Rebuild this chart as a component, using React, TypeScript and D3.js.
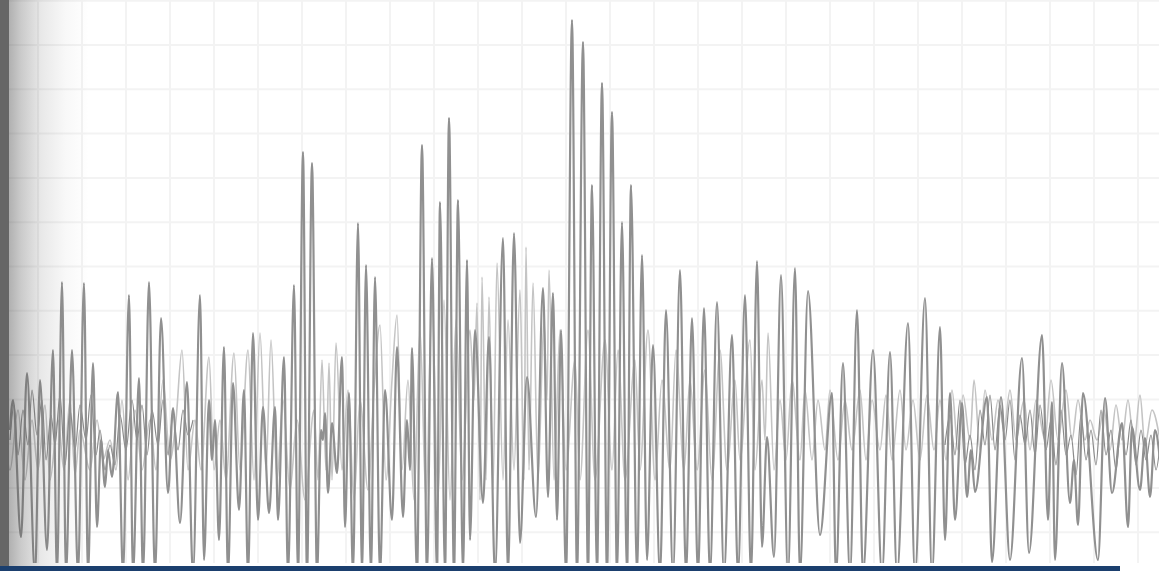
import React from "react";
import * as d3 from "d3";

// Main (dark) trace: time samples and amplitudes (baseline 0, up positive)
const mainT = [10,13,21,27,35,40,47,53,57,62,66,72,78,84,88,93,97,101,105,108,112,118,123,129,133,139,143,149,155,161,168,173,180,187,193,200,204,209,212,215,219,224,228,233,239,244,248,253,258,263,269,275,278,284,288,294,298,303,307,312,317,321,323,325,328,332,337,342,345,349,353,358,362,366,371,375,380,385,392,397,403,407,410,412,417,422,427,432,437,440,445,449,454,458,463,467,470,475,483,489,495,503,508,514,520,527,536,543,548,553,557,561,566,572,577,583,588,592,597,602,607,612,617,622,627,631,637,642,647,653,660,666,673,680,686,692,698,704,710,717,724,732,738,745,751,757,762,767,774,781,788,795,800,808,820,832,836,843,850,857,863,873,882,890,897,908,915,925,932,940,945,950,955,962,967,971,975,987,992,1001,1010,1022,1029,1042,1048,1052,1055,1062,1070,1074,1078,1083,1098,1105,1112,1122,1128,1132,1140,1145,1150,1155,1160];
const mainA = [-5,25,-112,52,-150,45,-125,75,-150,143,-150,75,-150,142,-150,62,-102,-15,-62,-25,-52,33,-150,130,-150,47,-150,143,-150,107,-68,17,-98,43,-150,130,-135,25,-35,5,-115,78,-150,42,-85,35,-150,92,-95,18,-88,18,-95,68,-150,140,-150,273,-150,262,-150,-5,-15,12,-68,2,-48,68,-102,32,-150,202,-150,160,-150,148,-150,35,-95,78,-92,5,-45,77,-150,280,-150,167,-150,223,-150,307,-150,225,-150,165,-115,95,-78,88,-150,187,-150,192,-118,48,-92,137,-72,132,-95,95,-150,405,-150,383,-150,240,-150,342,-150,313,-150,203,-150,240,-150,170,-135,80,-150,115,-150,155,-150,107,-150,117,-150,123,-150,90,-150,130,-150,164,-122,-12,-132,150,-150,157,-150,134,-110,32,-150,62,-150,115,-150,75,-150,73,-150,102,-150,127,-150,98,-115,32,-95,22,-72,-25,-67,28,-137,28,-135,67,-128,90,-95,23,-135,62,-78,-35,-100,32,-135,27,-68,2,-102,-2,-65,-13,-72,-5,-35];

// Secondary (light) trace
const lightT = [5,10,18,25,32,38,45,50,58,64,70,75,80,90,97,103,110,116,122,128,135,142,150,156,163,170,176,182,188,195,201,209,214,220,226,234,240,248,254,260,266,271,277,283,290,297,305,314,318,322,326,329,332,336,342,348,354,360,368,374,380,386,392,397,402,408,414,420,426,432,438,444,450,456,462,470,474,477,480,482,486,489,493,497,503,508,514,520,524,526,529,533,538,544,547,549,554,560,566,575,580,588,595,605,612,618,625,635,640,648,655,662,670,676,684,690,697,705,712,720,727,735,740,750,755,762,765,768,774,780,786,792,800,805,812,818,825,830,838,845,852,860,866,872,880,886,892,900,906,913,920,927,934,940,946,952,958,963,970,974,980,985,992,998,1004,1010,1016,1024,1030,1036,1045,1051,1058,1066,1072,1078,1085,1090,1097,1104,1110,1116,1122,1128,1134,1140,1145,1152,1160];
const lightA = [-5,-45,15,-55,5,-45,20,-55,5,-45,25,-50,-5,-45,5,-35,-15,-45,25,-55,15,-45,5,-45,45,-35,5,75,-45,5,-45,68,-45,5,-55,72,-45,75,-55,92,-45,85,-55,25,-65,5,-75,15,-55,65,-45,62,-55,82,-45,35,-75,25,-65,35,100,-55,45,110,-45,45,-75,95,-75,125,-75,125,-75,105,-55,95,25,122,-75,148,-55,128,-65,162,-55,105,-45,135,-55,178,-45,142,-55,105,25,155,-55,95,-45,65,-55,95,-55,85,-45,75,-55,65,-45,95,-55,45,-45,75,-45,45,-45,55,-55,75,-45,45,-35,85,-45,45,-15,92,-45,25,-35,45,-35,35,-35,25,-25,35,-35,25,-25,35,-35,25,-25,30,-35,35,-25,25,-35,30,-25,25,-35,35,-25,30,-15,45,-25,35,-15,25,-5,35,-15,25,-25,25,-15,45,-15,35,-15,25,-15,5,-15,15,-25,20,-15,25,-20,30,-20,15,-15];

// Low-amplitude dark noise near the baseline (left and right stretches)
const darkLeftT = [10,14,18,23,28,32,37,42,46,51,55,60,65,70,75,80,86,91,96,100,105,110,115,120,126,132,137,142,147,152,158,163,168,173,178,183,188,193];
const darkLeftA = [-15,20,-30,15,-20,35,-10,25,-35,10,-20,30,-40,15,-25,20,-15,30,-30,-5,-45,-20,-40,10,-25,25,-15,20,-30,15,-20,25,-30,10,-25,15,-10,5];
const darkRightT = [945,950,955,960,965,970,975,980,985,990,995,1000,1005,1010,1015,1020,1025,1030,1035,1040,1046,1051,1056,1061,1066,1071,1076,1081,1086,1091,1096,1101,1106,1111,1116,1121,1126,1131,1136,1141,1146,1151,1156,1160];
const darkRightA = [-20,10,-30,25,-40,-10,-45,15,-20,30,-25,20,-15,25,-35,10,-20,15,-30,20,-25,5,-40,15,-30,-10,-50,10,-35,-5,-40,15,-30,-5,-45,0,-30,5,-40,-5,-35,-10,-45,-20];

const W = 1159;
const H = 571;

export default function App() {
  const x = d3.scaleLinear().domain([0, W]).range([0, W]);
  const y = d3.scaleLinear().domain([-140, 405]).range([565, 20]);

  const line = d3
    .line<[number, number]>()
    .x((d) => x(d[0]))
    .y((d) => y(d[1]))
    .curve(d3.curveMonotoneX);

  const zip = (ts: number[], as: number[]): [number, number][] => ts.map((t, i) => [t, as[i]]);

  const vGrid = d3.range(-6, W, 44);
  const hGrid = d3.range(0.7, 565, 44.3);

  return (
    <svg
      width={W}
      height={H}
      style={{ position: "absolute", left: 0, top: 0, display: "block", background: "#fff" }}
    >
      <defs>
        <clipPath id="plotClip">
          <rect x={9} y={0} width={W - 9} height={563} />
        </clipPath>
        <linearGradient id="shade" x1="0" x2="1" y1="0" y2="0">
          <stop offset="0" stopColor="#505050" stopOpacity={0.45} />
          <stop offset="0.15" stopColor="#505050" stopOpacity={0.3} />
          <stop offset="0.4" stopColor="#505050" stopOpacity={0.13} />
          <stop offset="0.7" stopColor="#505050" stopOpacity={0.04} />
          <stop offset="1" stopColor="#505050" stopOpacity={0} />
        </linearGradient>
      </defs>
      <rect x={0} y={0} width={W} height={H} fill="#ffffff" />
      <g stroke="#f3f3f3" strokeWidth={2}>
        {vGrid.map((v) => (
          <line key={"v" + v} x1={v} x2={v} y1={0} y2={563} />
        ))}
        {hGrid.map((h) => (
          <line key={"h" + h} x1={0} x2={W} y1={h} y2={h} />
        ))}
      </g>
      <g clipPath="url(#plotClip)" fill="none" strokeLinejoin="round">
        <path d={line(zip(lightT, lightA)) || ""} stroke="#c4c4c4" strokeWidth={1.6} />
        <path d={line(zip(darkLeftT, darkLeftA)) || ""} stroke="#8a8a8a" strokeWidth={1.2} />
        <path d={line(zip(darkRightT, darkRightA)) || ""} stroke="#8a8a8a" strokeWidth={1.2} />
        <path d={line(zip(mainT, mainA)) || ""} stroke="#909090" strokeWidth={2.2} />
      </g>
      <rect x={9} y={0} width={80} height={566} fill="url(#shade)" />
      <rect x={0} y={0} width={9} height={566} fill="#666666" />
      <rect x={0} y={566} width={1120} height={5} fill="#1b3f6e" />
    </svg>
  );
}
